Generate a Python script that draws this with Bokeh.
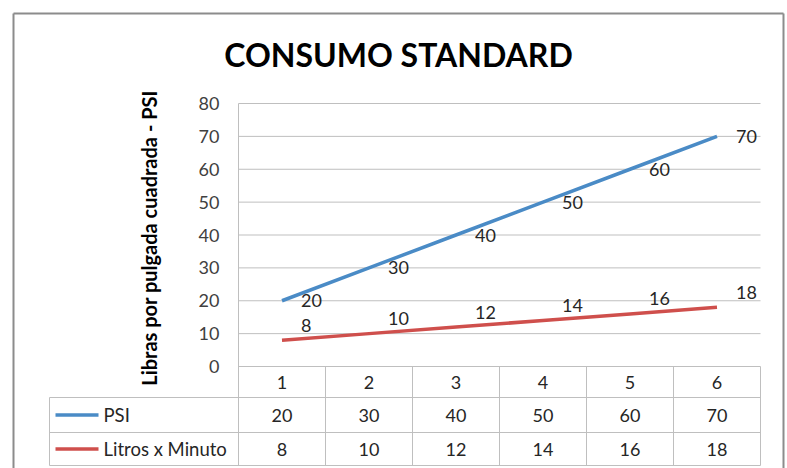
from bokeh.plotting import figure
from bokeh.core.properties import value
from bokeh.embed import file_html
from bokeh.resources import INLINE

# ---------------- data ----------------
title = "CONSUMO STANDARD"
y_axis_title = "Libras por pulgada cuadrada  - PSI"
categories = ["1", "2", "3", "4", "5", "6"]
series_names = ["PSI", "Litros x Minuto"]
psi = [20, 30, 40, 50, 60, 70]
litros = [8, 10, 12, 14, 16, 18]
y_ticks = [0, 10, 20, 30, 40, 50, 60, 70, 80]

# ---------------- layout (figure pixels) ----------------
W, H = 787, 468
plot_left, plot_right = 238, 760
plot_top, plot_bottom = 103, 366
row_edges = [366, 397, 432, 465]   # header, PSI row, Litros row
table_left = 49
FONT = "Lato"
blue = "#4A8BC6"
red = "#CF4F4C"
grid = "#BFBFBF"
txt = "#262626"

n = len(categories)
band = (plot_right - plot_left) / n
ymax = y_ticks[-1]
upp = ymax / (plot_bottom - plot_top)


def X(px):
    return 0.5 + (px - plot_left) / band


def Y(py):
    return (plot_bottom - py) * upp


p = figure(width=W, height=H, output_backend="svg", toolbar_location=None,
           x_range=(X(0), X(W)), y_range=(Y(H), Y(0)),
           min_border=0, outline_line_color=None)
p.axis.visible = False
p.grid.visible = False
p.background_fill_color = "white"
p.border_fill_color = "white"

xs = list(range(1, n + 1))

# outer chart border
p.segment(x0=[X(13), X(13), X(783)], y0=[Y(13), Y(13), Y(13)],
          x1=[X(13), X(783), X(783)], y1=[Y(H), Y(13), Y(H)],
          line_color="#8C8C8C", line_width=2)

# gridlines
gt = [t for t in y_ticks if t > 0]
p.segment(x0=[0.5] * len(gt), y0=gt, x1=[n + 0.5] * len(gt), y1=gt,
          line_color=grid, line_width=1)

# table horizontal lines
p.segment(x0=[0.5], y0=[Y(row_edges[0])], x1=[n + 0.5], y1=[Y(row_edges[0])],
          line_color=grid, line_width=1)
hy = [Y(r) for r in row_edges[1:]]
p.segment(x0=[X(table_left)] * 3, y0=hy, x1=[n + 0.5] * 3, y1=hy,
          line_color=grid, line_width=1)
# table vertical lines
vx = [k + 0.5 for k in range(n + 1)]
vy0 = [Y(plot_top)] + [Y(row_edges[0])] * n
p.segment(x0=vx, y0=vy0, x1=vx, y1=[Y(row_edges[-1])] * len(vx),
          line_color=grid, line_width=1)
p.segment(x0=[X(table_left)], y0=[Y(row_edges[1])], x1=[X(table_left)],
          y1=[Y(row_edges[-1])], line_color=grid, line_width=1)

# series lines
p.line(xs, psi, line_color=blue, line_width=3.5)
p.line(xs, litros, line_color=red, line_width=3.5)

# data labels
p.text(x=xs, y=psi, text=[str(v) for v in psi], text_font=value(FONT),
       text_font_size="18px", text_color=txt, text_align="left",
       text_baseline="middle", x_offset=19, y_offset=0)
p.text(x=xs, y=litros, text=[str(v) for v in litros], text_font=value(FONT),
       text_font_size="18px", text_color=txt, text_align="left",
       text_baseline="middle", x_offset=19, y_offset=-15)

# y tick labels
p.text(x=[X(219)] * len(y_ticks), y=y_ticks, text=[str(t) for t in y_ticks],
       text_font=value(FONT), text_font_size="18px", text_color="#404040",
       text_align="right", text_baseline="middle")

# y axis title
p.text(x=[X(148)], y=[Y(235)], text=[y_axis_title], text_font=value(FONT),
       text_font_size="20px", text_font_style="bold", text_color="black",
       text_align="center", text_baseline="middle", angle=1.5707963)

# chart title
p.text(x=[X(398)], y=[Y(54)], text=[title], text_font=value(FONT),
       text_font_size="32px", text_font_style="bold", text_color="black",
       text_align="center", text_baseline="middle")

# table header (categories)
hc = Y((row_edges[0] + row_edges[1]) / 2)
p.text(x=xs, y=[hc] * n, text=categories, text_font=value(FONT),
       text_font_size="18px", text_color=txt, text_align="center",
       text_baseline="middle")

# table rows
for i, (name, vals, col) in enumerate([(series_names[0], psi, blue),
                                      (series_names[1], litros, red)]):
    rc = Y((row_edges[i + 1] + row_edges[i + 2]) / 2)
    p.text(x=xs, y=[rc] * n, text=[str(v) for v in vals], text_font=value(FONT),
           text_font_size="18px", text_color=txt, text_align="center",
           text_baseline="middle")
    p.segment(x0=[X(55)], y0=[rc], x1=[X(98)], y1=[rc], line_color=col,
              line_width=3.5)
    p.text(x=[X(103)], y=[rc], text=[name], text_font=value(FONT),
           text_font_size="18.5px", text_color=txt, text_align="left",
           text_baseline="middle")

open("out.html", "w").write(file_html(p, INLINE))
